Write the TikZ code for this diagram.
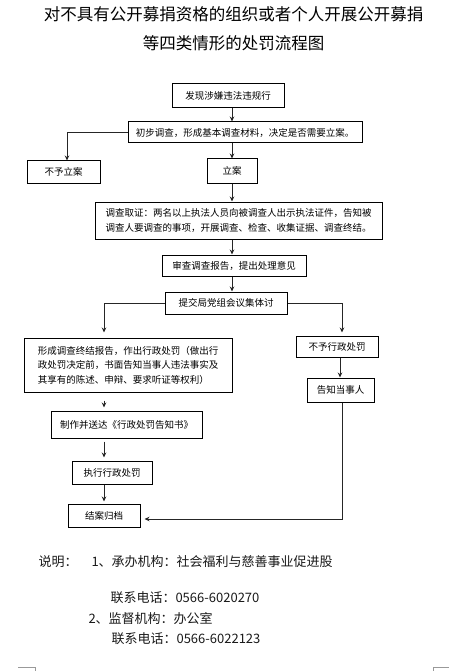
\documentclass[tikz,border=0pt]{standalone}
\usepackage{fontspec}
\setmainfont{Noto Sans CJK SC}
\usetikzlibrary{arrows.meta}
\begin{document}
\begin{tikzpicture}[x=1pt,y=-1pt,
box/.style={rectangle,draw=black,line width=1pt,inner sep=2pt,font=\fontsize{9.5}{14.5}\selectfont,align=center},
lbox/.style={box,align=left},
arr/.style={draw=black!85,line width=0.8pt,-{Stealth[length=5pt,width=4.5pt]}},
title/.style={font=\fontsize{16.5}{20}\selectfont},
note/.style={anchor=west,font=\fontsize{13}{16}\selectfont,text=black!90},
]
\useasboundingbox (0,0) rectangle (449,671);

% Titel
\node[title] (t1) at (233.5,14) {对不具有公开募捐资格的组织或者个人开展公开募捐};
\node[title] (t2) at (233.5,43) {等四类情形的处罚流程图};

% Ablauf
\node[box,minimum width=112,minimum height=24] (find) at (228,96) {发现涉嫌违法违规行};
\node[box,minimum width=234,minimum height=21] (prelim) at (245,132.5) {初步调查，形成基本调查材料，决定是否需要立案。};
\node[box,minimum width=73,minimum height=22] (nocase) at (63.5,172) {不予立案};
\node[box,minimum width=50,minimum height=24] (filecase) at (232,171) {立案};
\node[lbox,minimum width=287,minimum height=37] (investigate) at (238.5,220.5) {调查取证：两名以上执法人员向被调查人出示执法证件，告知被\\调查人要调查的事项，开展调查、检查、收集证据、调查终结。};
\node[box,minimum width=144,minimum height=21] (review) at (234,265.5) {审查调查报告，提出处理意见};
\node[box,minimum width=122,minimum height=22] (discuss) at (226,303) {提交局党组会议集体讨};
\node[lbox,minimum width=208,minimum height=54] (penalty) at (128,365) {形成调查终结报告，作出行政处罚（做出行\\政处罚决定前，书面告知当事人违法事实及\\其享有的陈述、申辩、要求听证等权利）};
\node[box,minimum width=82,minimum height=21] (nopenalty) at (337,346.5) {不予行政处罚};
\node[box,minimum width=67,minimum height=24] (notify) at (340.5,390) {告知当事人};
\node[box,minimum width=151,minimum height=27] (deliver) at (126.5,424.5) {制作并送达《行政处罚告知书》};
\node[box,minimum width=80,minimum height=23] (execute) at (112,472.5) {执行行政处罚};
\node[box,minimum width=72,minimum height=23] (archive) at (104,515.5) {结案归档};

\draw[arr] (find.south -| filecase) -- (prelim.north -| filecase);
\draw[arr] (prelim.west) -| ([xshift=3.5pt]nocase.north);
\draw[arr] (prelim.south -| filecase) -- (filecase.north);
\draw[arr] (filecase.south) -- (investigate.north -| filecase);
\draw[arr] (investigate.south -| filecase) -- (review.north -| filecase);
\draw[arr] (review.south -| filecase) -- (discuss.north -| filecase);
\draw[arr,shorten >=5pt] (discuss.west) -| (penalty.north -| archive);
\draw[arr,shorten >=3pt] (discuss.east) -| ([xshift=5pt]nopenalty.north);
\draw[arr] ([xshift=-0.5pt]notify.north |- nopenalty.south) -- ([xshift=-0.5pt]notify.north);
\draw[arr,shorten <=8pt,shorten >=3pt] (penalty.south -| archive) -- (deliver.north -| archive);
\draw[arr,shorten <=3pt,shorten >=3pt] (deliver.south -| archive) -- (execute.north -| archive);
\draw[arr,shorten >=2pt] (execute.south -| archive) -- (archive.north);
\draw[arr,shorten >=4pt] ([xshift=1.5pt]notify.south) |- ([yshift=-3.5pt]archive.east);

% Hinweise
\node[note] (n0) at (35,562) {说明：};
\node[note] (n1) at (88,562) {1、承办机构：社会福利与慈善事业促进股};
\node[note] (n2) at (107,598) {联系电话：0566-6020270};
\node[note] (n3) at (85,619) {2、监督机构：办公室};
\node[note] (n4) at (108,639) {联系电话：0566-6022123};

% Seitenecken
\draw[black!40,line width=0.6pt] (18,667.5) -- (35,667.5) -- (35,671);
\draw[black!40,line width=0.6pt] (449,667.5) -- (433,667.5) -- (433,671);
\end{tikzpicture}
\end{document}
